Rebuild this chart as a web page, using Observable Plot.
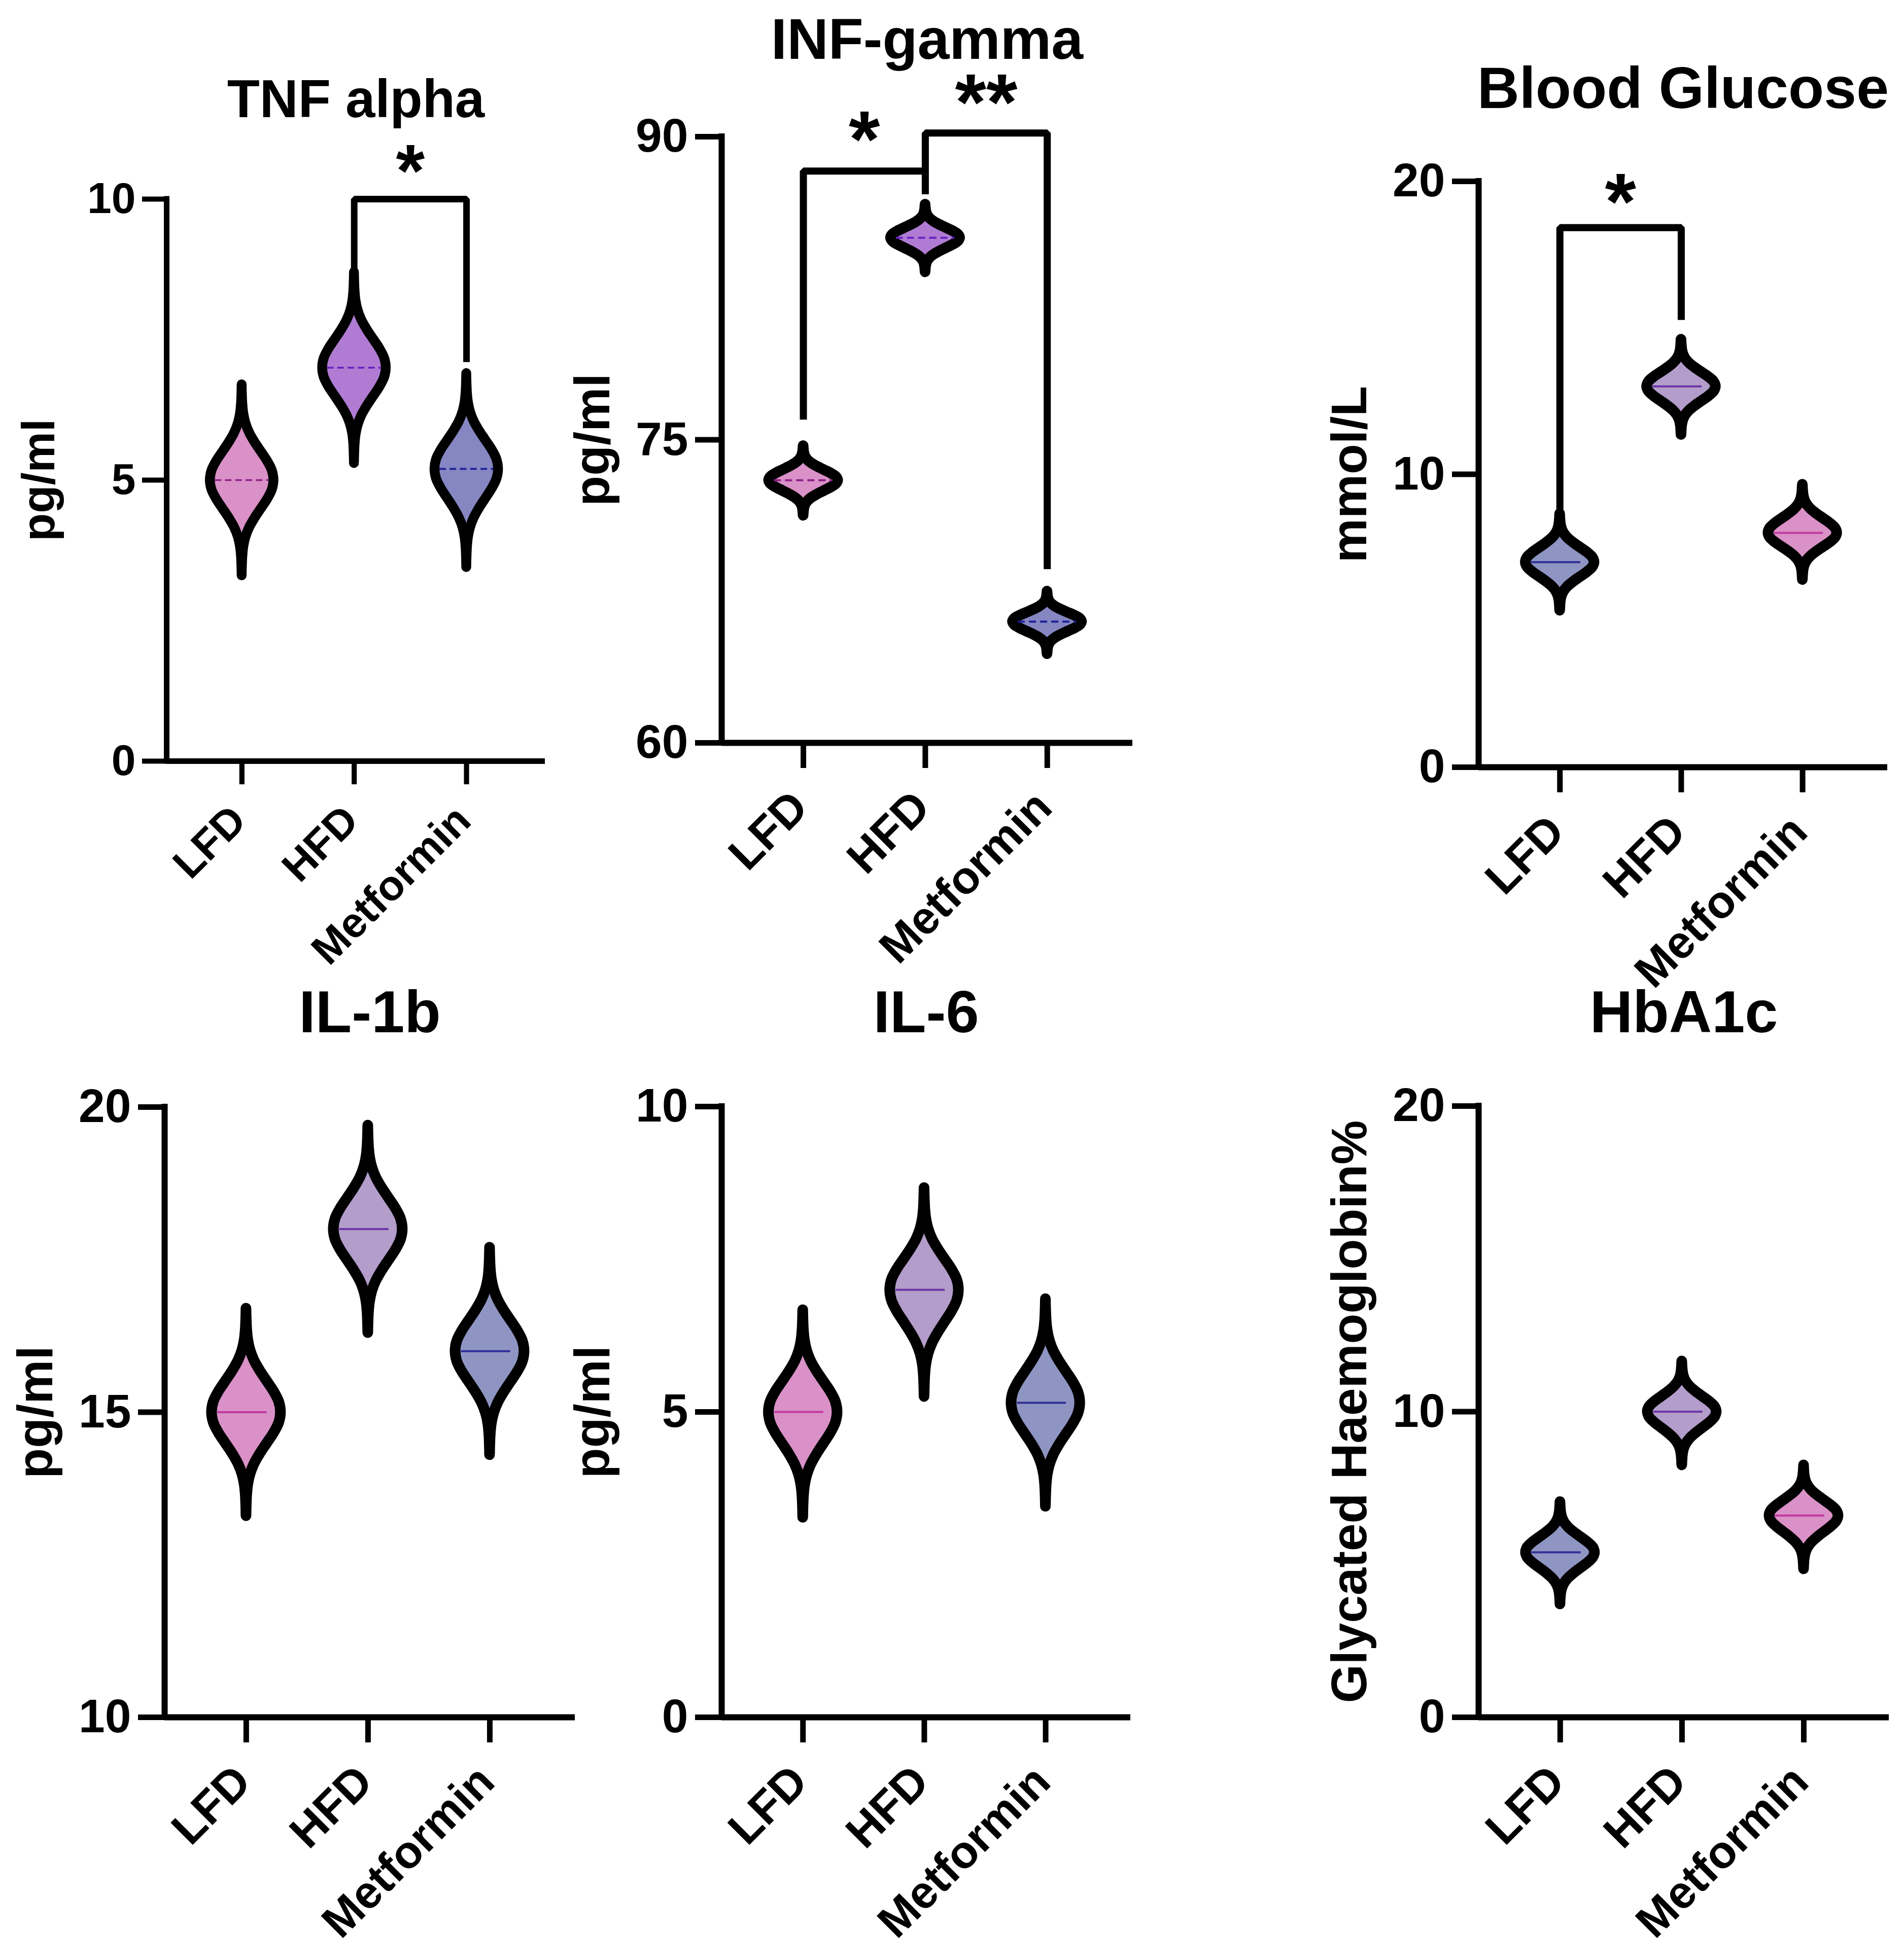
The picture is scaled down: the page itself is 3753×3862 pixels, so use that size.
<!DOCTYPE html>
<html>
<head>
<meta charset="utf-8">
<script src="https://cdn.jsdelivr.net/npm/d3@7"></script>
<script src="https://cdn.jsdelivr.net/npm/@observablehq/plot@0.6"></script>
<style>
  html, body { margin: 0; padding: 0; background: #fff; }
  #fig { position: relative; width: 3753px; height: 3862px; background: #fff; overflow: hidden; }
  #fig svg { position: absolute; }
</style>
</head>
<body>
<div id="fig"></div>
<script>
// ---------------- data ----------------
const groups = ["LFD", "HFD", "Metformin"];

// TNF alpha (pg/ml)
const tnfMedian = [5.0, 7.0, 5.2];
const tnfMin    = [3.3, 5.3, 3.45];
const tnfMax    = [6.7, 8.7, 6.9];
const tnfTicks  = [0, 5, 10];

// INF-gamma (pg/ml)
const infMedian = [73.0, 85.0, 66.0];
const infMin    = [71.25, 83.3, 64.4];
const infMax    = [74.7, 86.65, 67.5];
const infTicks  = [60, 75, 90];

// Blood Glucose (mmol/L)
const bgMedian = [7.0, 13.0, 8.0];
const bgMin    = [5.35, 11.35, 6.4];
const bgMax    = [8.65, 14.6, 9.65];
const bgTicks  = [0, 10, 20];

// IL-1b (pg/ml)
const il1Median = [15.0, 18.0, 16.0];
const il1Min    = [13.3, 16.3, 14.3];
const il1Max    = [16.7, 19.7, 17.7];
const il1Ticks  = [10, 15, 20];

// IL-6 (pg/ml)
const il6Median = [5.0, 7.0, 5.15];
const il6Min    = [3.27, 5.25, 3.45];
const il6Max    = [6.67, 8.67, 6.85];
const il6Ticks  = [0, 5, 10];

// HbA1c (Glycated Haemoglobin%)
const hbMedian = [5.4, 10.0, 6.6];
const hbMin    = [3.7, 8.25, 4.85];
const hbMax    = [7.05, 11.65, 8.25];
const hbTicks  = [0, 10, 20];

// significance brackets: group pair, top of bracket, leg ends, label, label height
const tnfBrackets = [{from: 1, to: 2, top: 10.0, fromEnd: 8.66, toEnd: 7.1, label: "*", labelY: 10.68}];
const infBrackets = [
  {from: 0, to: 1, top: 88.3, fromEnd: 76.0, toEnd: 87.15, label: "*", labelY: 90.4},
  {from: 1, to: 2, top: 90.18, fromEnd: 88.3, toEnd: 68.6, label: "**", labelY: 92.25}
];
const bgBrackets = [{from: 0, to: 1, top: 18.42, fromEnd: 8.76, toEnd: 15.27, label: "*", labelY: 19.68}];

// violin outline: relative distance from median (0..1) -> relative half-width
const violinT = [0, 0.1, 0.2, 0.3, 0.4, 0.5, 0.6, 0.7, 0.8, 0.9, 1.0];
const violinW = [1, 0.95, 0.8, 0.6, 0.4, 0.23, 0.115, 0.05, 0.02, 0.007, 0];

// ---------------- styles ----------------
const PINK = "#d991c7", VIOLET = "#b07cd3", SLATE = "#8586c2", LAV = "#b39dcb", BLUEGREY = "#8f95c2";
const FONT = "'Liberation Sans', Arial, Helvetica, sans-serif";

const panels = [
  {title: "TNF alpha", ylabel: "pg/ml", med: tnfMedian, lo: tnfMin, hi: tnfMax, ticks: tnfTicks, brackets: tnfBrackets,
   fills: [PINK, VIOLET, SLATE], lines: ["#8e2288", "#6a24c0", "#1c2196"], dashed: true,
   axisX: 328, endX: 1074, top: 392, bottom: 1500, svgTop: 0, svgBottom: 1960, k: 0.923, titleBase: 230, titleFs: 105},
  {title: "INF-gamma", ylabel: "pg/ml", med: infMedian, lo: infMin, hi: infMax, ticks: infTicks, brackets: infBrackets,
   fills: [PINK, VIOLET, SLATE], lines: ["#8e2288", "#6a24c0", "#1c2196"], dashed: true,
   axisX: 1422, endX: 2232, top: 269, bottom: 1464, svgTop: 0, svgBottom: 1960, k: 1, titleBase: 115, titleFs: 113},
  {title: "Blood Glucose", ylabel: "mmol/L", med: bgMedian, lo: bgMin, hi: bgMax, ticks: bgTicks, brackets: bgBrackets,
   fills: [BLUEGREY, LAV, PINK], lines: ["#2f3096", "#6d36a8", "#c23aa0"], dashed: false,
   axisX: 2914, endX: 3720, top: 357, bottom: 1512, svgTop: 0, svgBottom: 1960, k: 1, titleBase: 212, titleFs: 115},
  {title: "IL-1b", ylabel: "pg/ml", med: il1Median, lo: il1Min, hi: il1Max, ticks: il1Ticks, brackets: [],
   fills: [PINK, LAV, BLUEGREY], lines: ["#c23aa0", "#6d36a8", "#2f3096"], dashed: false,
   axisX: 324, endX: 1133, top: 2182, bottom: 3385, svgTop: 1880, svgBottom: 3862, k: 1, titleBase: 2034, titleFs: 117},
  {title: "IL-6", ylabel: "pg/ml", med: il6Median, lo: il6Min, hi: il6Max, ticks: il6Ticks, brackets: [],
   fills: [PINK, LAV, BLUEGREY], lines: ["#c23aa0", "#6d36a8", "#2f3096"], dashed: false,
   axisX: 1422, endX: 2228, top: 2181, bottom: 3385, svgTop: 1880, svgBottom: 3862, k: 1, titleBase: 2034, titleFs: 117},
  {title: "HbA1c", ylabel: "Glycated Haemoglobin%", med: hbMedian, lo: hbMin, hi: hbMax, ticks: hbTicks, brackets: [],
   fills: [BLUEGREY, LAV, PINK], lines: ["#2f3096", "#6d36a8", "#c23aa0"], dashed: false,
   axisX: 2914, endX: 3723, top: 2180, bottom: 3385, svgTop: 1880, svgBottom: 3862, k: 1, titleBase: 2034, titleFs: 117}
];

const X_DOMAIN = [-0.67, 2.70];
const HALF_W = 0.283;     // violin half width in category units
const ML = 330, MR = 40;

function violinPoints(i, med, lo, hi) {
  const pts = [];
  for (let j = violinT.length - 1; j >= 0; j--) pts.push({g: i, y: med - violinT[j] * (med - lo), w: violinW[j]});
  for (let j = 1; j < violinT.length; j++) pts.push({g: i, y: med + violinT[j] * (hi - med), w: violinW[j]});
  return pts;
}

const fig = document.getElementById("fig");

for (const p of panels) {
  const k = p.k;
  const fw = p.endX - p.axisX;
  const mt = p.top - p.svgTop;
  const mb = p.svgBottom - p.bottom;
  const ymin = p.ticks[0], ymax = p.ticks[p.ticks.length - 1];
  const axW = 12 * k;
  const marks = [];

  // violins
  groups.forEach((g, i) => {
    marks.push(Plot.areaX(violinPoints(i, p.med[i], p.lo[i], p.hi[i]), {
      y: "y", x1: d => d.g - HALF_W * d.w, x2: d => d.g + HALF_W * d.w,
      curve: "catmull-rom", fill: p.fills[i], stroke: "black", strokeWidth: 21 * k, strokeLinejoin: "round"
    }));
  });

  // median lines
  marks.push(Plot.ruleY([0, 1, 2], {
    y: i => p.med[i],
    x1: i => i + (p.dashed ? -0.24 : -0.235),
    x2: i => i + (p.dashed ? 0.24 : 0.17),
    stroke: i => p.lines[i], strokeWidth: 4 * k,
    strokeDasharray: p.dashed ? `${14 * k},${8 * k}` : null
  }));

  // significance brackets
  p.brackets.forEach((b) => {
    marks.push(Plot.line([
      {x: b.from, y: b.fromEnd}, {x: b.from, y: b.top}, {x: b.to, y: b.top}, {x: b.to, y: b.toEnd}
    ], {x: "x", y: "y", stroke: "black", strokeWidth: 14 * k, strokeLinejoin: "miter", strokeLinecap: "butt"}));
  });
  if (p.brackets.length) {
    const fs = 158 * k;
    marks.push(Plot.text(p.brackets, {
      x: b => (b.from + b.to) / 2, y: b => b.labelY, text: b => b.label,
      fontSize: fs, fontWeight: 700, dy: 0.16 * fs, lineAnchor: "middle", fill: "black"
    }));
  }

  // axes
  marks.push(Plot.ruleX([X_DOMAIN[0]], {y1: ymin, y2: ymax, stroke: "black", strokeWidth: axW, strokeLinecap: "square"}));
  marks.push(Plot.ruleY([ymin], {x1: X_DOMAIN[0], x2: X_DOMAIN[1], stroke: "black", strokeWidth: axW}));
  marks.push(Plot.axisY({
    anchor: "left", ticks: p.ticks, tickSize: 52 * k, tickPadding: 14 * k, strokeWidth: 11 * k,
    fontSize: 93 * k, fontWeight: 700, label: null, color: "black"
  }));
  marks.push(Plot.axisX({
    anchor: "bottom", ticks: [0, 1, 2], tickSize: 50 * k, strokeWidth: 11 * k, stroke: "black", fill: "none", label: null
  }));

  // category labels
  marks.push(Plot.text(groups, {
    x: (d, i) => i, text: d => d, frameAnchor: "bottom", rotate: -45, textAnchor: "end", lineAnchor: "bottom",
    dx: 14 * k, dy: 132 * k, fontSize: 90 * k, fontWeight: 700, fill: "black"
  }));

  // y label
  marks.push(Plot.text([p.ylabel], {
    frameAnchor: "left", rotate: -90, textAnchor: "middle", lineAnchor: "bottom",
    dx: -222, fontSize: 98 * k, fontWeight: 700, fill: "black"
  }));

  // title
  marks.push(Plot.text([p.title], {
    frameAnchor: "top", lineAnchor: "bottom", dy: p.titleBase - p.top,
    fontSize: p.titleFs, fontWeight: 700, fill: "black"
  }));

  const svg = Plot.plot({
    width: ML + fw + MR,
    height: mt + (p.bottom - p.top) + mb,
    marginLeft: ML, marginRight: MR, marginTop: mt, marginBottom: mb,
    x: {domain: X_DOMAIN, axis: null},
    y: {domain: [ymin, ymax], axis: null},
    style: {background: "transparent", overflow: "visible", fontFamily: FONT, maxWidth: "none", color: "black"},
    marks
  });
  svg.style.left = (p.axisX - ML) + "px";
  svg.style.top = p.svgTop + "px";
  fig.appendChild(svg);
}
</script>
</body>
</html>
